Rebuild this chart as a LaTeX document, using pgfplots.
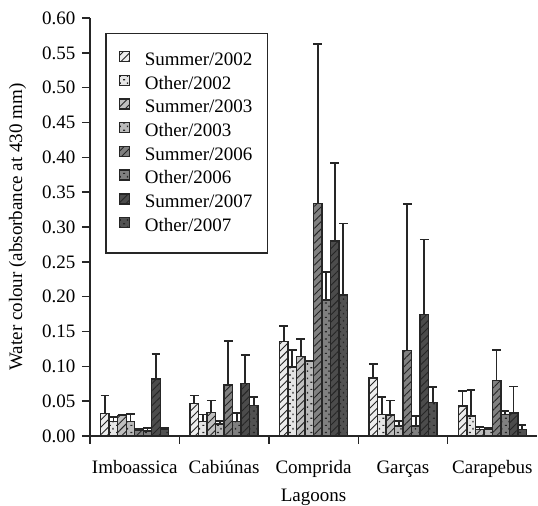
\documentclass[border=0pt]{standalone}
\usepackage{fontspec}
\setmainfont{Liberation Serif}
\usepackage{pgfplots}
\usepackage{pgfplotstable}
\pgfplotsset{compat=1.18}
\usetikzlibrary{patterns,patterns.meta}
\pgfdeclarepatternformonly{sparsedots}{\pgfqpoint{-1pt}{-1pt}}{\pgfqpoint{5pt}{5pt}}{\pgfqpoint{3.6pt}{3.6pt}}{%
  \pgfpathrectangle{\pgfqpoint{0.4pt}{0.4pt}}{\pgfqpoint{1pt}{0.6pt}}%
  \pgfpathrectangle{\pgfqpoint{2.2pt}{2.2pt}}{\pgfqpoint{0.6pt}{0.8pt}}%
  \pgfusepath{fill}}

\pgfplotstableread{
x y e
0 0.0325 0.0255
1 0.047 0.011
2 0.1355 0.0225
3 0.083 0.020
4 0.043 0.0216
}\sA
\pgfplotstableread{
x y e
0 0.021 0.006
1 0.021 0.010
2 0.099 0.0245
3 0.031 0.025
4 0.0287 0.037
}\oA
\pgfplotstableread{
x y e
0 0.029 0.002
1 0.034 0.017
2 0.114 0.025
3 0.030 0.021
4 0.0096 0.0037
}\sB
\pgfplotstableread{
x y e
0 0.021 0.011
1 0.017 0.0045
2 0.107 0.001
3 0.0145 0.007
4 0.0096 0.0024
}\oB
\pgfplotstableread{
x y e
0 0.0086 0.0014
1 0.073 0.063
2 0.334 0.229
3 0.123 0.210
4 0.080 0.044
}\sC
\pgfplotstableread{
x y e
0 0.007 0.004
1 0.021 0.012
2 0.195 0.040
3 0.0145 0.0142
4 0.031 0.005
}\oC
\pgfplotstableread{
x y e
0 0.082 0.036
1 0.0757 0.041
2 0.280 0.112
3 0.174 0.108
4 0.033 0.038
}\sD
\pgfplotstableread{
x y e
0 0.010 0.002
1 0.044 0.0115
2 0.2025 0.1025
3 0.048 0.022
4 0.0096 0.0062
}\oD

\definecolor{ink}{gray}{0.15}
\pgfplotsset{
  hatchbar/.style={fill=#1, draw=ink, line width=0.7pt,
    postaction={pattern={Lines[angle=45,distance=2.6pt,line width=0.45pt]}, pattern color=ink}},
  dotbar/.style={fill=#1, draw=ink, line width=0.7pt,
    postaction={pattern=sparsedots, pattern color=ink}},
}

\begin{document}
\fontsize{9.5}{11.4}\selectfont
\begin{tikzpicture}
\begin{axis}[
  name=ax,
  scale only axis, width=223.5pt, height=209pt,
  ymin=0, ymax=0.6,
  ytick={0,0.05,0.1,0.15,0.2,0.25,0.3,0.35,0.4,0.45,0.5,0.55,0.6},
  yticklabel style={/pgf/number format/fixed, /pgf/number format/fixed zerofill, /pgf/number format/precision=2},
  /pgf/number format/assume math mode=true,
  xmin=-0.5, xmax=4.5,
  xtick={-0.5,0.5,1.5,2.5,3.5},
  xticklabels={Imboassica,Cabiúnas,Comprida,Garças,Carapebus},
  xticklabel style={xshift=22.35pt, yshift=-5pt},
  axis lines=left,
  axis line style={-, line width=0.7pt, ink},
  tick style={line width=0.7pt, ink},
  tick align=outside, major tick length=4pt,
  ybar=0pt, bar width=4.25pt,
  ylabel={Water colour (absorbance at 430 mm)},
  xlabel={Lagoons},
  ylabel style={at={(axis description cs:-0.162,0.5)}, anchor=center, rotate=0},
  xlabel style={at={(axis description cs:0.5,0)}, anchor=base, yshift=-32.5pt},
  error bars/y dir=plus, error bars/y explicit,
  error bars/error bar style={line width=0.9pt, ink},
  error bars/error mark options={rotate=90, mark size=2.2pt, line width=0.9pt, ink},
  legend style={at={(0.034,0.965)}, anchor=north west, draw=ink, line width=0.7pt,
    inner xsep=6.5pt, inner ysep=8.8pt, row sep=2.6pt, column sep=6.25pt,
    nodes={inner xsep=1pt, inner ysep=0pt, text height=7pt, text depth=2pt}},
  legend cell align=left,
  legend image code/.code={\draw[#1] (0pt,-0.6pt) rectangle (5pt,4.4pt);},
]
\addplot[hatchbar=black!7] table[x=x,y=y,y error=e]{\sA};
\addlegendentry{Summer/2002}
\addplot[dotbar=black!10] table[x=x,y=y,y error=e]{\oA};
\addlegendentry{Other/2002}
\addplot[hatchbar=black!25] table[x=x,y=y,y error=e]{\sB};
\addlegendentry{Summer/2003}
\addplot[dotbar=black!27] table[x=x,y=y,y error=e]{\oB};
\addlegendentry{Other/2003}
\addplot[hatchbar=black!50] table[x=x,y=y,y error=e]{\sC};
\addlegendentry{Summer/2006}
\addplot[dotbar=black!50] table[x=x,y=y,y error=e]{\oC};
\addlegendentry{Other/2006}
\addplot[hatchbar=black!70] table[x=x,y=y,y error=e]{\sD};
\addlegendentry{Summer/2007}
\addplot[dotbar=black!68] table[x=x,y=y,y error=e]{\oD};
\addlegendentry{Other/2007}
\end{axis}
\pgfresetboundingbox
\path[use as bounding box] ([xshift=-45pt,yshift=-35pt]ax.south west) rectangle ([xshift=0.5pt,yshift=9pt]ax.north east);
\end{tikzpicture}
\end{document}
